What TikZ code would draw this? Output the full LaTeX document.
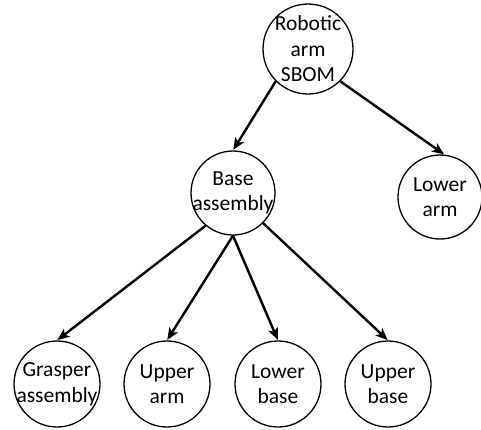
\documentclass[tikz,border=0pt]{standalone}
\usepackage{fontspec}
\setmainfont{Carlito}
\usetikzlibrary{arrows.meta}
\begin{document}
\begin{tikzpicture}[x=1pt,y=1pt,
  part/.style={circle, draw, line width=1.3pt, inner sep=0pt, minimum size=#1},
  part/.default=86pt,
  txt/.style={align=center, inner sep=0pt, font=\fontsize{21.5}{25.5}\selectfont},
  link/.style={line width=2.4pt, -{Stealth[length=12pt, width=10pt, inset=3pt]}, shorten >=0.5pt}]
\useasboundingbox (0,0) rectangle (481,-429);
\node[part=90pt] (rob) at (308,-49) {};
\node[part=84pt] (base) at (233,-193) {};
\node[part=84pt] (lowarm) at (440,-197) {};
\node[part] (grasp) at (57,-384) {};
\node[part] (uparm) at (167,-384) {};
\node[part] (lowbase) at (278,-384) {};
\node[part] (upbase) at (388,-384) {};
\node[txt] (robt) at (rob) {Robotic\\arm\\SBOM};
\node[txt] (baset) at (base) {Base\\assembly};
\node[txt] (lowarmt) at (lowarm) {Lower\\arm};
\node[txt] (graspt) at (grasp) {Grasper\\assembly};
\node[txt] (uparmt) at (uparm) {Upper\\arm};
\node[txt] (lowbaset) at (lowbase) {Lower\\base};
\node[txt] (upbaset) at (upbase) {Upper\\base};
\draw[link] (rob.225) -- (base.north);
\draw[link] (rob.-45) -- (lowarm.84);
\draw[link] (base.230) -- (grasp.north);
\draw[link] (base.south) -- (uparm.north);
\draw[link] (base.south) -- (lowbase.north);
\draw[link] (base.-45) -- (upbase.north);
\end{tikzpicture}
\end{document}
